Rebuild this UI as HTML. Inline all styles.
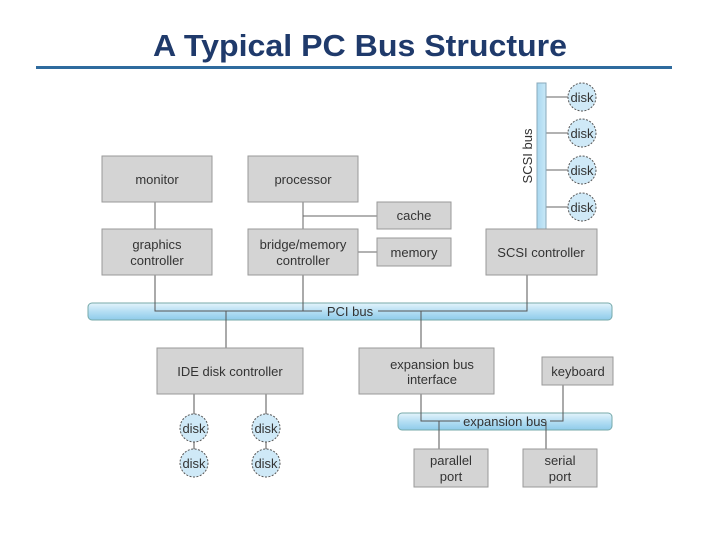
<!DOCTYPE html>
<html><head><style>
body{margin:0;width:720px;height:540px;background:#fff;overflow:hidden}
</style></head><body>
<svg width="720" height="540" xmlns="http://www.w3.org/2000/svg" font-family="Liberation Sans, Arial, sans-serif">
<defs>
<linearGradient id="g" x1="0" y1="0" x2="0" y2="1"><stop offset="0" stop-color="#e4f4fc"/><stop offset="0.5" stop-color="#b5def3"/><stop offset="1" stop-color="#8ecbea"/></linearGradient>
<linearGradient id="gv" x1="0" y1="0" x2="1" y2="0"><stop offset="0" stop-color="#a9d8f0"/><stop offset="1" stop-color="#c9e8f7"/></linearGradient>
</defs>
<text x="360" y="56" text-anchor="middle" font-size="31" font-weight="bold" fill="#1f3a6b" textLength="414" lengthAdjust="spacingAndGlyphs">A Typical PC Bus Structure</text>
<rect x="36" y="66" width="636" height="3" fill="#2f6b9e"/>
<g stroke="#666" stroke-width="1" fill="none">
<line x1="155" y1="202" x2="155" y2="229"/>
<line x1="303" y1="202" x2="303" y2="229"/>
<line x1="303" y1="216" x2="377" y2="216"/>
<line x1="358" y1="252" x2="377" y2="252"/>
<line x1="546" y1="97" x2="568" y2="97"/>
<line x1="546" y1="133" x2="568" y2="133"/>
<line x1="546" y1="170" x2="568" y2="170"/>
<line x1="546" y1="207" x2="568" y2="207"/>
</g>
<rect x="537" y="83" width="9" height="146" fill="url(#gv)" stroke="#8ab" stroke-width="1"/>
<text transform="translate(532,156) rotate(-90)" text-anchor="middle" font-size="13" fill="#333">SCSI bus</text>
<rect x="88" y="303" width="524" height="17" rx="4" fill="url(#g)" stroke="#7aa" stroke-width="1"/>
<rect x="398" y="413" width="214" height="17" rx="4" fill="url(#g)" stroke="#7aa" stroke-width="1"/>
<g stroke="#555" stroke-width="1" fill="none">
<polyline points="155,275 155,311 322,311"/>
<line x1="303" y1="275" x2="303" y2="311"/>
<polyline points="527,275 527,311 378,311"/>
<line x1="226" y1="311" x2="226" y2="348"/>
<line x1="421" y1="311" x2="421" y2="348"/>
<polyline points="421,394 421,421 460,421"/>
<polyline points="563,385 563,421 550,421"/>
<line x1="439" y1="421" x2="439" y2="449"/>
<line x1="546" y1="421" x2="546" y2="449"/>
<line x1="194" y1="394" x2="194" y2="449"/>
<line x1="266" y1="394" x2="266" y2="449"/>
</g>
<g fill="#cfe9f7" stroke="#555" stroke-dasharray="2,1.5">
<circle cx="582" cy="97" r="14"/><circle cx="582" cy="133" r="14"/><circle cx="582" cy="170" r="14"/><circle cx="582" cy="207" r="14"/>
<circle cx="194" cy="428" r="14"/><circle cx="266" cy="428" r="14"/><circle cx="194" cy="463" r="14"/><circle cx="266" cy="463" r="14"/>
</g>
<g font-size="13" fill="#333" text-anchor="middle">
<text x="582" y="102">disk</text><text x="582" y="138">disk</text><text x="582" y="175">disk</text><text x="582" y="212">disk</text>
<text x="194" y="433">disk</text><text x="266" y="433">disk</text><text x="194" y="468">disk</text><text x="266" y="468">disk</text>
</g>
<text x="350" y="316" text-anchor="middle" font-size="13" fill="#333">PCI bus</text>
<text x="505" y="426" text-anchor="middle" font-size="13" fill="#333">expansion bus</text>
<g fill="#d4d4d4" stroke="#999" stroke-width="1">
<rect x="102" y="156" width="110" height="46"/>
<rect x="248" y="156" width="110" height="46"/>
<rect x="377" y="202" width="74" height="27"/>
<rect x="377" y="238" width="74" height="28"/>
<rect x="102" y="229" width="110" height="46"/>
<rect x="248" y="229" width="110" height="46"/>
<rect x="486" y="229" width="111" height="46"/>
<rect x="157" y="348" width="146" height="46"/>
<rect x="359" y="348" width="135" height="46"/>
<rect x="542" y="357" width="71" height="28"/>
<rect x="414" y="449" width="74" height="38"/>
<rect x="523" y="449" width="74" height="38"/>
</g>
<g font-size="13" fill="#333" text-anchor="middle">
<text x="157" y="184">monitor</text>
<text x="303" y="184">processor</text>
<text x="414" y="220">cache</text>
<text x="414" y="257">memory</text>
<text x="157" y="249">graphics</text><text x="157" y="265">controller</text>
<text x="303" y="249">bridge/memory</text><text x="303" y="265">controller</text>
<text x="541" y="257">SCSI controller</text>
<text x="230" y="376">IDE disk controller</text>
<text x="432" y="369">expansion bus</text><text x="432" y="384">interface</text>
<text x="578" y="376">keyboard</text>
<text x="451" y="465">parallel</text><text x="451" y="481">port</text>
<text x="560" y="465">serial</text><text x="560" y="481">port</text>
</g>
</svg>
</body></html>
